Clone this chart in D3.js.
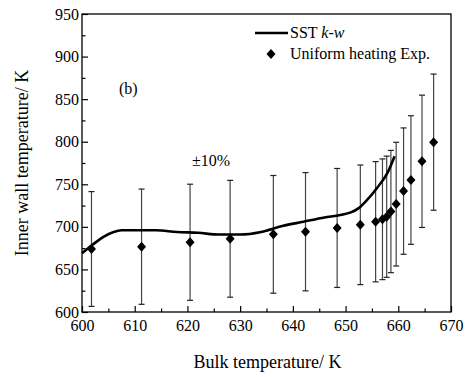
<!DOCTYPE html>
<html><head><meta charset="utf-8">
<script src="https://cdn.jsdelivr.net/npm/d3@7"></script>
<style>body{margin:0;background:#fff}svg{display:block}</style>
</head><body><svg id="c" width="469" height="377" font-family="'Liberation Serif','Times New Roman',serif"></svg>
<script>
const expX = [601.8, 611.3, 620.5, 628.1, 636.3, 642.4, 648.4, 652.8, 655.7, 657.0, 657.8, 658.6, 659.6, 661.0, 662.4, 664.5, 666.7];
const expY = [674, 676.7, 681.9, 686, 691.2, 694.3, 698.7, 702.4, 706, 708.9, 711.9, 718, 726.7, 742, 755, 777, 799.5];
const sstX = [600, 602, 604, 606, 607.5, 610, 614, 618, 622, 626, 630, 634, 638, 642, 646, 649, 651, 652.5, 654, 656, 658, 659.3];
const sstY = [669, 679, 688, 694, 696, 696, 696, 694, 693, 691, 691, 694, 701, 706, 711, 714, 717, 722, 731, 746, 764, 783];
const xTicks = [600, 610, 620, 630, 640, 650, 660, 670];
const yTicks = [600, 650, 700, 750, 800, 850, 900, 950];
const errFrac = 0.10;

const FONT = "'Liberation Serif','Times New Roman',serif";
const svg = d3.select("#c");
const L = 82, R = 451, T = 14, B = 312;
const x = d3.scaleLinear().domain([600, 670]).range([L, R]);
const y = d3.scaleLinear().domain([600, 950]).range([B, T]);

svg.append("rect").attr("x", L).attr("y", T).attr("width", R - L).attr("height", B - T)
  .attr("fill", "none").attr("stroke", "#000").attr("stroke-width", 1.3);

function styleAxis(g) {
  g.attr("font-family", FONT).attr("font-size", 16);
  g.select(".domain").remove();
  g.selectAll("line").attr("stroke-width", 1.2);
  g.selectAll("text").attr("fill", "#000");
}
const xa = svg.append("g").attr("transform", `translate(0,${B})`)
  .call(d3.axisBottom(x).tickValues(xTicks).tickSize(-6).tickPadding(10).tickFormat(d3.format("d")));
styleAxis(xa);
xa.selectAll("text").attr("y", 8);
const xm = svg.append("g").attr("transform", `translate(0,${B})`)
  .call(d3.axisBottom(x).tickValues(d3.range(605, 670, 10)).tickSize(-3.5).tickFormat(""));
styleAxis(xm);

const ya = svg.append("g").attr("transform", `translate(${L},0)`)
  .call(d3.axisLeft(y).tickValues(yTicks).tickSize(-6).tickPadding(4).tickFormat(d3.format("d")));
styleAxis(ya);
ya.selectAll("text").attr("x", -3);
const ym = svg.append("g").attr("transform", `translate(${L},0)`)
  .call(d3.axisLeft(y).tickValues(d3.range(625, 950, 50)).tickSize(-3.5).tickFormat(""));
styleAxis(ym);

svg.append("text").attr("x", (L + R) / 2 + 1).attr("y", 368).attr("text-anchor", "middle")
  .attr("font-size", 18).text("Bulk temperature/ K");
svg.append("text").attr("transform", `translate(28,${(T + B) / 2}) rotate(-90)`).attr("text-anchor", "middle")
  .attr("font-size", 18).text("Inner wall temperature/ K");

const eb = svg.append("g");
expX.forEach((xv, i) => {
  const yv = expY[i], lo = yv * (1 - errFrac), hi = yv * (1 + errFrac);
  eb.append("line").attr("x1", x(xv)).attr("x2", x(xv)).attr("y1", y(lo)).attr("y2", y(Math.min(hi, 950)))
    .attr("stroke", "#444").attr("stroke-width", 1.2);
  [lo, hi].forEach(v => {
    if (v <= 950) eb.append("line").attr("x1", x(xv) - 3).attr("x2", x(xv) + 3).attr("y1", y(v)).attr("y2", y(v))
      .attr("stroke", "#222").attr("stroke-width", 1.2);
  });
});

const line = d3.line().x((d, i) => x(sstX[i])).y(d => y(d)).curve(d3.curveMonotoneX);
svg.append("path").attr("d", line(sstY)).attr("fill", "none").attr("stroke", "#000").attr("stroke-width", 2.6);

const diamond = "M0,-5L4.5,0L0,5L-4.5,0Z";
svg.append("g").selectAll("path").data(expX).join("path")
  .attr("transform", (d, i) => `translate(${x(d)},${y(expY[i])})`).attr("d", diamond).attr("fill", "#000");

svg.append("line").attr("x1", 255).attr("x2", 288).attr("y1", 33).attr("y2", 33).attr("stroke", "#000").attr("stroke-width", 2.6);
const t1 = svg.append("text").attr("x", 290).attr("y", 38).attr("font-size", 16);
t1.append("tspan").text("SST ");
t1.append("tspan").attr("font-style", "italic").text("k-w");
svg.append("path").attr("transform", "translate(271,54)").attr("d", diamond).attr("fill", "#000");
svg.append("text").attr("x", 290).attr("y", 59).attr("font-size", 16).text("Uniform heating Exp.");

svg.append("text").attr("x", 119).attr("y", 94).attr("font-size", 16).text("(b)");
svg.append("text").attr("x", 192).attr("y", 166).attr("font-size", 16).text("±10%");
</script></body></html>
